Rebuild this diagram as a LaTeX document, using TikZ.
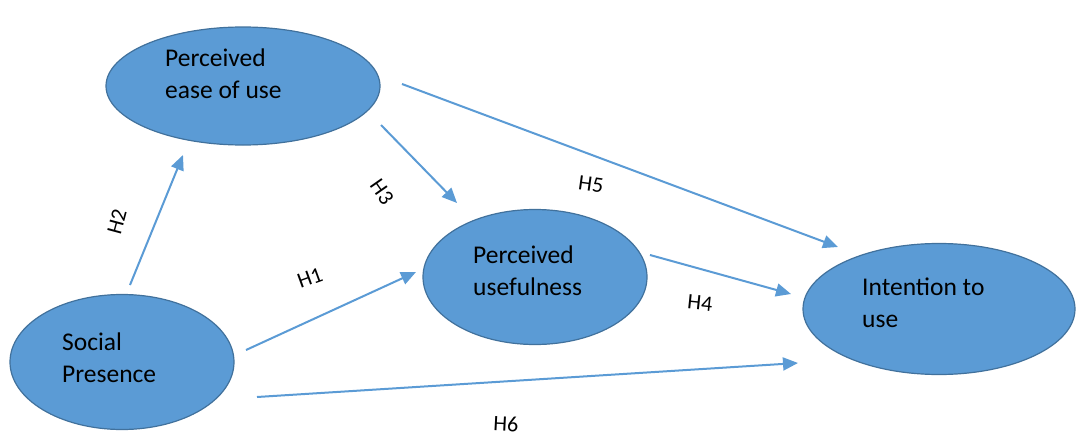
\documentclass[tikz,border=0pt]{standalone}
\usepackage{fontspec}
\setmainfont{Carlito}
\usetikzlibrary{shapes.geometric,arrows.meta}
\definecolor{fillblue}{HTML}{5B9BD5}
\definecolor{edgeblue}{HTML}{41719C}
\definecolor{arrowblue}{HTML}{5B9BD5}
\tikzset{
  construct/.style={ellipse, draw=edgeblue, line width=1.2pt, fill=fillblue, inner sep=0pt},
  ctext/.style={anchor=base west, inner sep=0pt, align=left, font=\fontsize{25.5}{32}\selectfont, text=black},
  hyp/.style={-{Triangle[length=15pt,width=13pt]}, draw=arrowblue, line width=2pt},
  hlabel/.style={inner sep=0pt, font=\fontsize{22}{26}\selectfont, text=black}
}
\begin{document}
\begin{tikzpicture}[x=1pt,y=-1pt]
\useasboundingbox (0,0) rectangle (1076,439);
% constructs
\node[construct, minimum width=274pt, minimum height=118pt] (peou) at (243,86) {};
\node[construct, minimum width=224pt, minimum height=135pt] (pu) at (535,277) {};
\node[construct, minimum width=272pt, minimum height=131pt] (itu) at (939,309) {};
\node[construct, minimum width=224pt, minimum height=135pt] (sp) at (122,362) {};
% texts (anchor at baseline of last line)
\node[ctext] (tpeou) at (165,98) {Perceived\\ease of use};
\node[ctext] (tpu) at (473,295) {Perceived\\usefulness};
\node[ctext] (titu) at (862,327) {Intention to\\use};
\node[ctext] (tsp) at (62,382) {Social\\Presence};
% arrow end points
\coordinate (h2s) at (130,285);
\coordinate (h2e) at (183,155);
\coordinate (h3s) at (381,125);
\coordinate (h3e) at (457,203);
\coordinate (h5s) at (402,84);
\coordinate (h5e) at (838,247);
\coordinate (h1s) at (246,350);
\coordinate (h1e) at (416,272);
\coordinate (h4s) at (650,255);
\coordinate (h4e) at (791,294);
\coordinate (h6s) at (257,397);
\coordinate (h6e) at (798,363);
% hypotheses
\draw[hyp] (h2s) -- (h2e);
\draw[hyp] (h3s) -- (h3e);
\draw[hyp] (h5s) -- (h5e);
\draw[hyp] (h1s) -- (h1e);
\draw[hyp] (h4s) -- (h4e);
\draw[hyp] (h6s) -- (h6e);
% labels
\node[hlabel, rotate=75] (l2) at (117,222) {H2};
\node[hlabel, rotate=-55] (l3) at (382,192) {H3};
\node[hlabel, rotate=-8] (l5) at (591,184) {H5};
\node[hlabel, rotate=20] (l1) at (310,278) {H1};
\node[hlabel, rotate=-6] (l4) at (700,303) {H4};
\node[hlabel, rotate=-3] (l6) at (506,424) {H6};
\end{tikzpicture}
\end{document}
